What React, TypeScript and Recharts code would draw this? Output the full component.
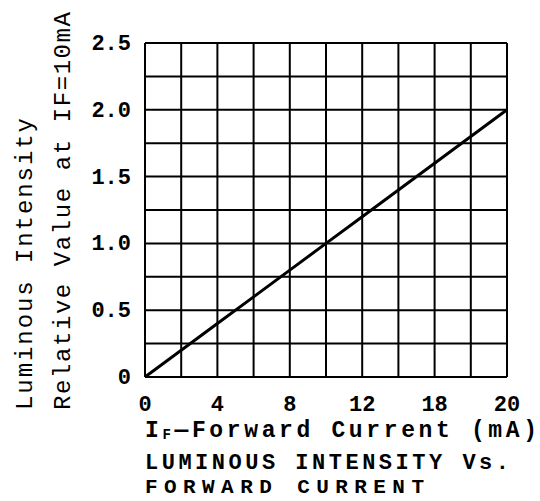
import { LineChart, Line, XAxis, YAxis, CartesianGrid } from 'recharts';

const currents = [0, 2, 4, 6, 8, 10, 12, 14, 16, 18, 20];
const intensity = [0, 0.2, 0.4, 0.6, 0.8, 1.0, 1.2, 1.4, 1.6, 1.8, 2.0];

const xGridTicks = [0, 2, 4, 6, 8, 10, 12, 14, 16, 18, 20];
const xLabelTicks = [0, 4, 8, 12, 16, 20];
const xTickLabels = ['0', '4', '8', '12', '18', '20'];

const yGridTicks = [0, 0.25, 0.5, 0.75, 1.0, 1.25, 1.5, 1.75, 2.0, 2.25, 2.5];
const yLabelTicks = [0, 0.5, 1.0, 1.5, 2.0, 2.5];
const yTickLabels = ['0', '0.5', '1.0', '1.5', '2.0', '2.5'];

const data = currents.map((c, i) => ({ current: c, value: intensity[i] }));

const MONO = '"Liberation Mono", "DejaVu Sans Mono", monospace';

const XTick = (props: any) => {
  const { x, y, payload } = props;
  const idx = xLabelTicks.indexOf(payload.value);
  if (idx < 0) return null;
  return (
    <text x={x} y={y + 26} textAnchor="middle" fontFamily={MONO} fontWeight="bold" fontSize={22} fill="#000">
      {xTickLabels[idx]}
    </text>
  );
};

const YTick = (props: any) => {
  const { x, y, payload } = props;
  const idx = yLabelTicks.indexOf(payload.value);
  if (idx < 0) return null;
  return (
    <text x={x - 6} y={y + 7} textAnchor="end" fontFamily={MONO} fontWeight="bold" fontSize={22} fill="#000">
      {yTickLabels[idx]}
    </text>
  );
};

export default function App() {
  return (
    <div style={{ position: 'absolute', left: 0, top: 0, width: 540, height: 501, background: '#fff' }}>
      <LineChart width={540} height={501} data={data} margin={{ top: 43, right: 33, bottom: 94, left: 0 }}>
        <CartesianGrid stroke="#000" strokeWidth={2} horizontalValues={yGridTicks} verticalValues={xGridTicks} />
        <XAxis
          dataKey="current"
          type="number"
          domain={[0, 20]}
          ticks={xGridTicks}
          interval={0}
          height={30}
          axisLine={false}
          tickLine={false}
          tick={<XTick />}
        />
        <YAxis
          type="number"
          domain={[0, 2.5]}
          ticks={yGridTicks}
          interval={0}
          width={145}
          axisLine={false}
          tickLine={false}
          tick={<YTick />}
        />
        <Line dataKey="value" type="linear" stroke="#000" strokeWidth={3} dot={false} isAnimationActive={false} />
      </LineChart>
      <svg width={540} height={501} style={{ position: 'absolute', left: 0, top: 0, pointerEvents: 'none' }}>
        <text x={145} y={437} fontFamily={MONO} fontWeight="bold" fontSize={23} fill="#000" textLength={392} lengthAdjust="spacing">
          I<tspan fontSize={14} dy={2}>F</tspan><tspan dy={-2}>—Forward Current (mA)</tspan>
        </text>
        <text x={145} y={469} fontFamily={MONO} fontWeight="bold" fontSize={22} fill="#000" textLength={364} lengthAdjust="spacing">
          LUMINOUS INTENSITY Vs.
        </text>
        <text x={145} y={493} fontFamily={MONO} fontWeight="bold" fontSize={21} fill="#000" textLength={279} lengthAdjust="spacing">
          FORWARD CURRENT
        </text>
        <text transform="translate(32,410) rotate(-90)" fontFamily={MONO} fontSize={24} fill="#000" textLength={292} lengthAdjust="spacing">
          Luminous Intensity
        </text>
        <text transform="translate(70,410) rotate(-90)" fontFamily={MONO} fontSize={24} fill="#000" textLength={398} lengthAdjust="spacing">
          Relative Value at I<tspan>F</tspan>=10mA
        </text>
      </svg>
    </div>
  );
}
